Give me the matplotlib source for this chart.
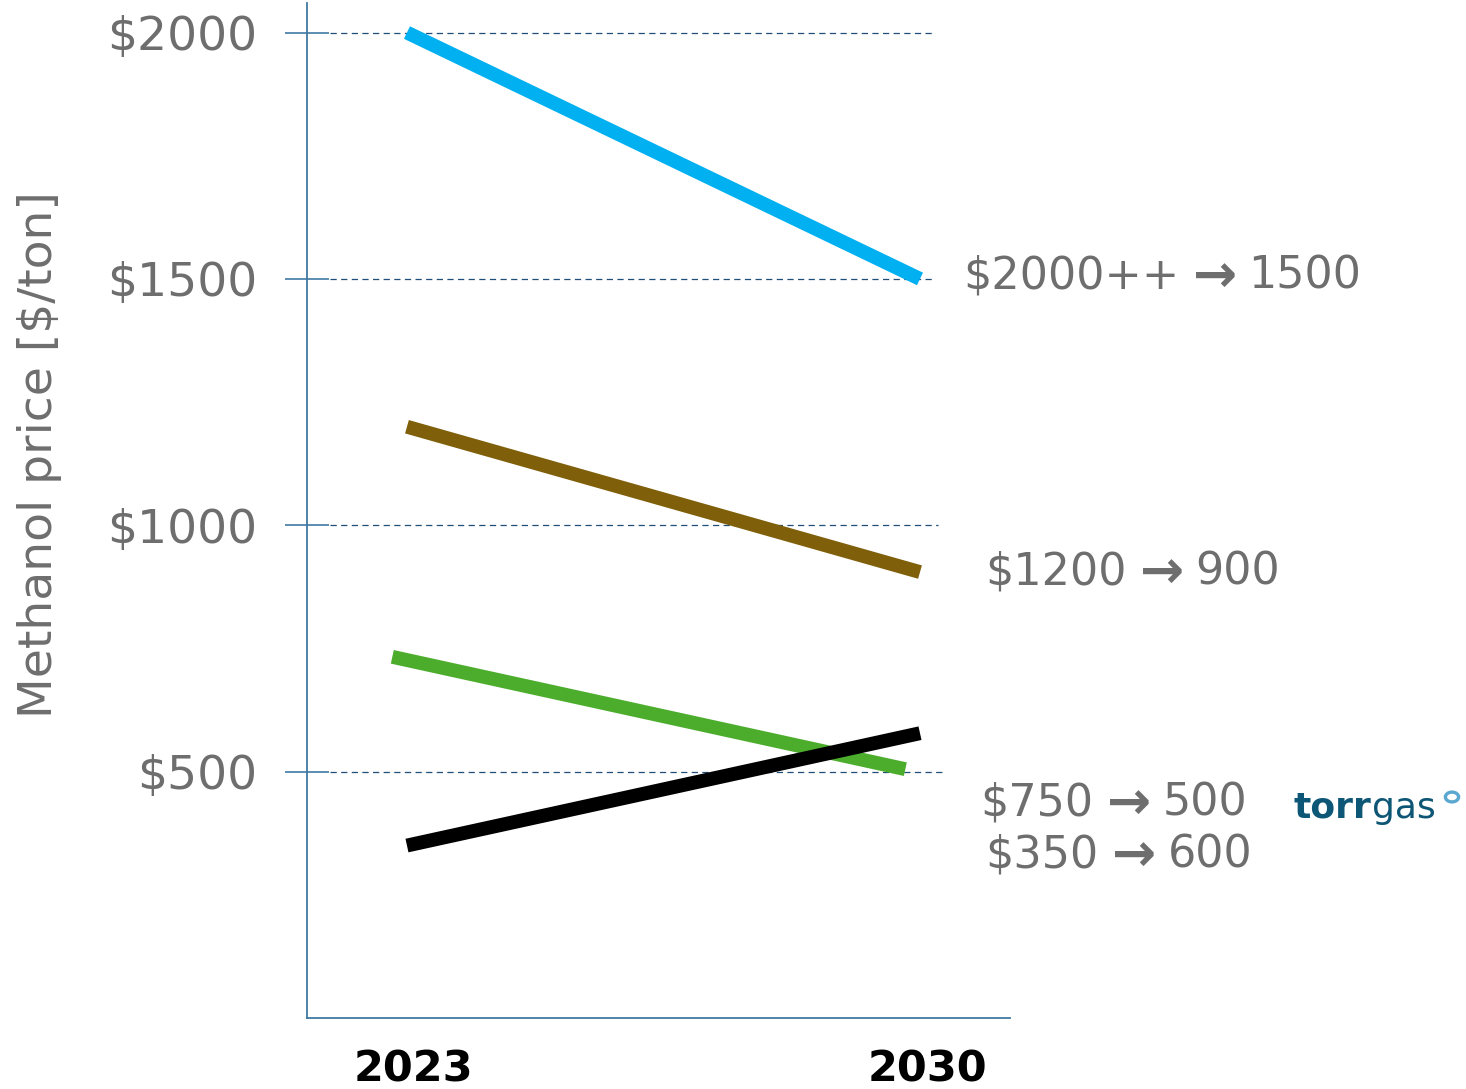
import matplotlib
matplotlib.use("Agg")
import matplotlib.pyplot as plt
from matplotlib.transforms import ScaledTranslation

# data
years = [2023, 2030]
series_x = [[2023, 2030], [2023, 2030], [2022.8, 2029.8], [2023, 2030]]
series_y = [[2000, 1500], [1200, 905], [733, 505], [350, 578]]
series_colors = ["#00b0f0", "#7f5f0a", "#4cad2d", "#000000"]
yticks = [500, 1000, 1500, 2000]
ytick_labels = ["$500", "$1000", "$1500", "$2000"]
label_from = ["$2000++", "$1200", "$750", "$350"]
label_to = ["1500", "900", "500", "600"]

W, H = 1466, 1089
GREY = "#6e6e6e"
AXBLUE = "#3f79a3"
NAVY = "#1f4e79"

plt.rcParams["font.family"] = ["DejaVu Sans"]

fig = plt.figure(figsize=(W / 100, H / 100), dpi=100)
ax = fig.add_axes([307 / W, 71 / H, 703 / W, 1015 / H])

for xs, ys, c in zip(series_x, series_y, series_colors):
    ax.plot(xs, ys, color=c, lw=10, solid_capstyle="butt", zorder=3)

ax.set_xlim(2021.636, 2031.228)
ax.set_ylim(0, 2060)

for v, xe in zip(yticks, [0.904, 0.898, 0.889, 0.889]):
    ax.axhline(v, xmin=0.033, xmax=xe, color=NAVY, lw=0.9, ls=(0, (5, 3.5)), zorder=1)

ax.set_yticks(yticks)
ax.set_yticklabels(ytick_labels, fontsize=34, color=GREY)
ax.tick_params(axis="y", direction="inout", length=32, width=1.2, color=AXBLUE, pad=20)
ax.set_xticks(years)
ax.set_xticklabels([str(y) for y in years], fontsize=31, fontweight="bold", color="black")
ax.tick_params(axis="x", length=0, pad=22)
shift = ScaledTranslation(5 / 72, 0, fig.dpi_scale_trans)
for lbl in ax.get_xticklabels():
    lbl.set_transform(lbl.get_transform() + shift)

for s in ["top", "right"]:
    ax.spines[s].set_visible(False)
for s in ["left", "bottom"]:
    ax.spines[s].set_color(AXBLUE)
    ax.spines[s].set_linewidth(1.3)

ax.set_ylabel("Methanol price [$/ton]", fontsize=34, color=GREY)
ax.yaxis.set_label_coords(-0.349, 0.555)

# value annotations on the right (pixel positions from the reference)
label_pos = [(963, 276), (985, 572), (980, 803), (985, 855)]
for a, b, (px, py) in zip(label_from, label_to, label_pos):
    t1 = fig.text(px / W, 1 - py / H, a, fontsize=32, color=GREY, ha="left", va="center")
    t2 = ax.annotate("\u2192", xy=(1, 0.5), xycoords=t1, xytext=(10, -1), textcoords="offset points",
                     fontsize=38, fontweight="bold", color=GREY, ha="left", va="center",
                     annotation_clip=False)
    ax.annotate(b, xy=(1, 0.5), xycoords=t2, xytext=(8, 1), textcoords="offset points",
                fontsize=32, color=GREY, ha="left", va="center", annotation_clip=False)

# torrgas logo
t = fig.text(1293 / W, 1 - 818 / H, "torr", fontsize=26, color="#0d5675", fontweight="bold",
             ha="left", va="baseline")
ax.annotate("gas", xy=(1, 0), xycoords=t, xytext=(1, 0), textcoords="offset points",
            fontsize=26, color="#0d5675", ha="left", va="bottom", annotation_clip=False)
fig.patches.append(plt.Circle((1452 / W, 1 - 797 / H), 0.0045, transform=fig.transFigure,
                              fill=False, ec="#5aa8d0", lw=2.4))

fig.savefig("out.png", dpi=100)
